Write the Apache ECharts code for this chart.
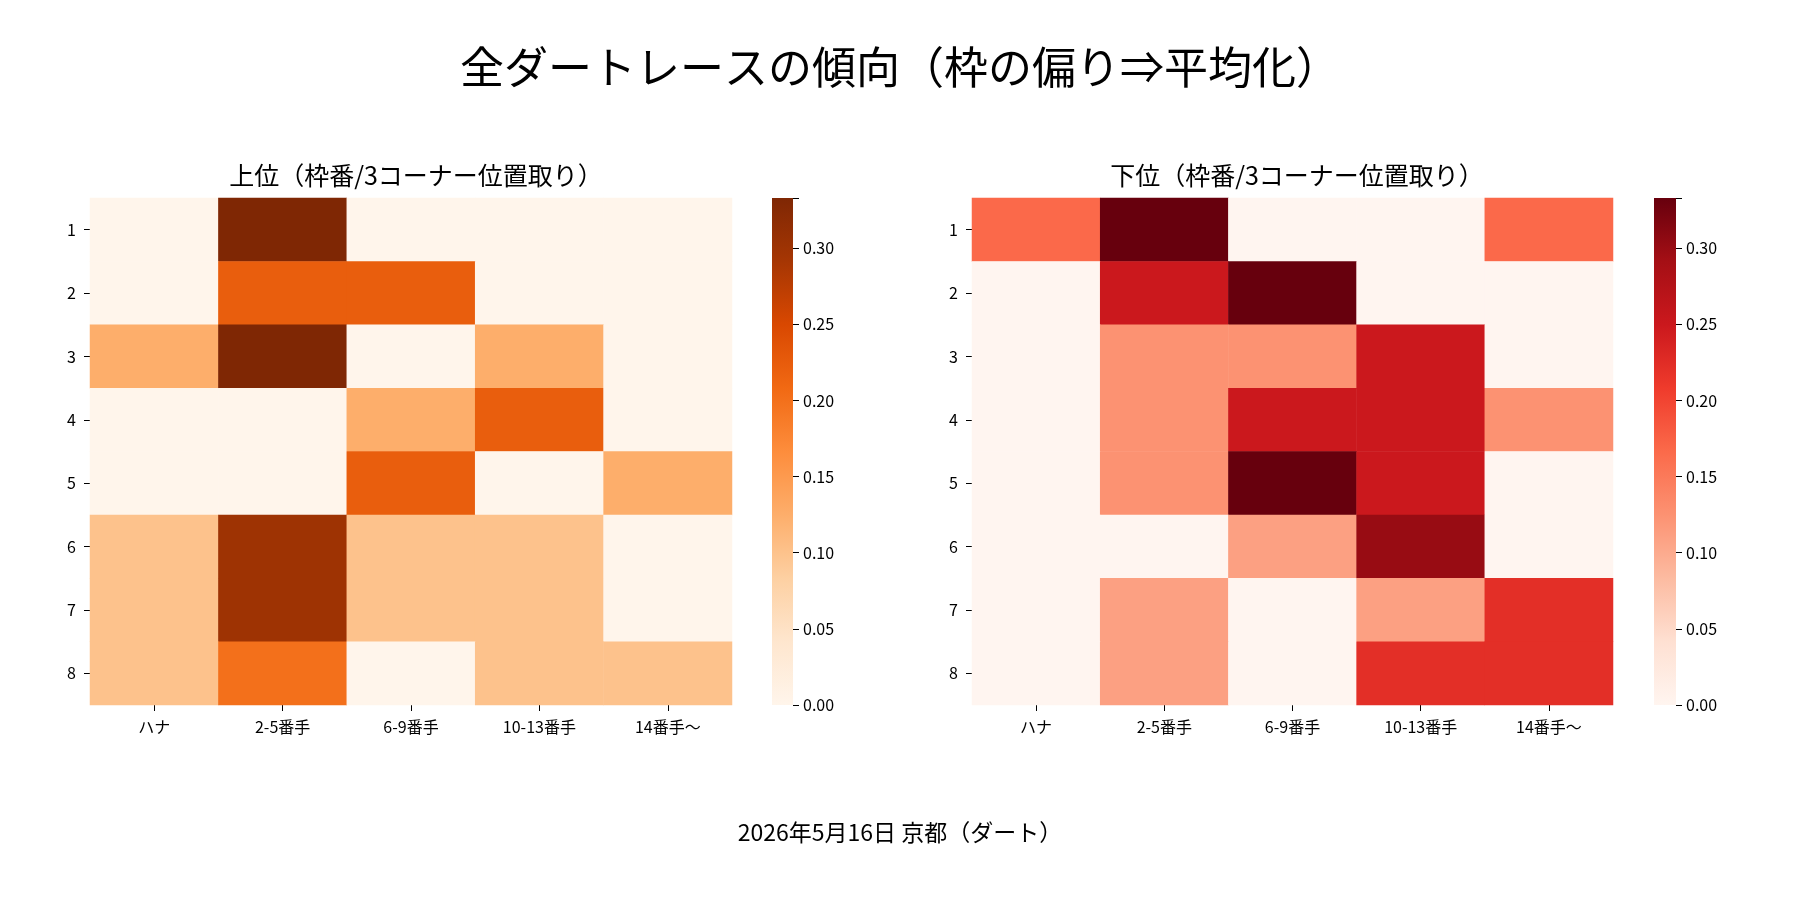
<!DOCTYPE html><html><head><meta charset="utf-8"><script src="https://cdn.jsdelivr.net/npm/echarts@6/dist/echarts.min.js"></script>
<style>html,body{margin:0;background:#fff}#c{width:1800px;height:900px}</style></head><body><div id="c"></div><script>
const xCats=["ハナ","2-5番手","6-9番手","10-13番手","14番手〜"];
const yCats=["1","2","3","4","5","6","7","8"];
const upper=[
[0,0.333,0,0,0],
[0,0.222,0.222,0,0],
[0.125,0.333,0,0.125,0],
[0,0,0.125,0.222,0],
[0,0,0.222,0,0.125],
[0.1,0.3,0.1,0.1,0],
[0.1,0.3,0.1,0.1,0],
[0.1,0.2,0,0.1,0.1]];
const lower=[
[0.167,0.333,0,0,0.167],
[0,0.25,0.333,0,0],
[0,0.125,0.125,0.25,0],
[0,0.125,0.25,0.25,0.125],
[0,0.125,0.333,0.25,0],
[0,0,0.111,0.3,0],
[0,0.111,0,0.111,0.222],
[0,0.111,0,0.222,0.222]];
const vmax=0.333;
const cbTicks=[0,0.05,0.1,0.15,0.2,0.25,0.3];
const oranges=['#fff5eb','#fee6ce','#fdd0a2','#fdae6b','#fd8d3c','#f16913','#d94801','#a63603','#7f2704'];
const reds=['#fff5f0','#fee0d2','#fcbba1','#fc9272','#fb6a4a','#ef3b2c','#cb181d','#a50f15','#67000d'];
const F='"Noto Sans CJK JP"';
function toData(m){const d=[];m.forEach((r,i)=>r.forEach((v,j)=>d.push([j,i,v])));return d;}
function grad(cs){return new echarts.graphic.LinearGradient(0,1,0,0,cs.map((c,i)=>({offset:i/(cs.length-1),color:c})));}
const grids=[{left:90,top:198,width:642,height:507},{left:972,top:198,width:641,height:507},
{left:772,top:198,width:21,height:507},{left:1654,top:198,width:22,height:507}];
const tl={color:'#000',fontFamily:F,fontSize:16};
const xAxis=[0,1].map(g=>({type:'category',gridIndex:g,data:xCats,axisLine:{show:false},axisTick:{show:true,alignWithLabel:true,length:6,lineStyle:{color:'#000'}},axisLabel:Object.assign({margin:14},tl),splitArea:{show:false}}))
.concat([2,3].map(g=>({type:'category',gridIndex:g,data:[''],show:false})));
const yAxis=[0,1].map(g=>({type:'category',gridIndex:g,data:yCats,inverse:true,axisLine:{show:false},axisTick:{show:true,alignWithLabel:true,length:6,lineStyle:{color:'#000'}},axisLabel:Object.assign({margin:14},tl)}))
.concat([2,3].map(g=>({type:'value',gridIndex:g,position:'right',min:0,max:vmax,interval:0.05,splitLine:{show:false},axisLine:{show:false},axisTick:{show:true,length:6,lineStyle:{color:'#000'}},axisLabel:Object.assign({margin:10,formatter:v=>cbTicks.includes(+v.toFixed(2))?v.toFixed(2):''},tl)})));
const opt={animation:false,backgroundColor:'#fff',
title:[{text:'全ダートレースの傾向（枠の偏り⇒平均化）',left:'center',top:40,textStyle:{fontFamily:F,fontSize:44,fontWeight:'normal',color:'#000'}},
{text:'上位（枠番/3コーナー位置取り）',left:411,textAlign:'center',top:158,textStyle:{fontFamily:F,fontSize:25,fontWeight:'normal',color:'#000'}},
{text:'下位（枠番/3コーナー位置取り）',left:1292,textAlign:'center',top:158,textStyle:{fontFamily:F,fontSize:25,fontWeight:'normal',color:'#000'}},
{text:'2026年5月16日 京都（ダート）',left:'center',top:816,textStyle:{fontFamily:F,fontSize:23,fontWeight:'normal',color:'#000'}}],
grid:grids,xAxis,yAxis,
visualMap:[{show:false,seriesIndex:0,min:0,max:vmax,inRange:{color:oranges}},{show:false,seriesIndex:1,min:0,max:vmax,inRange:{color:reds}}],
series:[
{type:'heatmap',xAxisIndex:0,yAxisIndex:0,data:toData(upper)},
{type:'heatmap',xAxisIndex:1,yAxisIndex:1,data:toData(lower)},
{type:'bar',xAxisIndex:2,yAxisIndex:2,data:[vmax],barWidth:'100%',itemStyle:{color:grad(oranges)}},
{type:'bar',xAxisIndex:3,yAxisIndex:3,data:[vmax],barWidth:'100%',itemStyle:{color:grad(reds)}}]};
echarts.init(document.getElementById('c')).setOption(opt);
</script></body></html>
